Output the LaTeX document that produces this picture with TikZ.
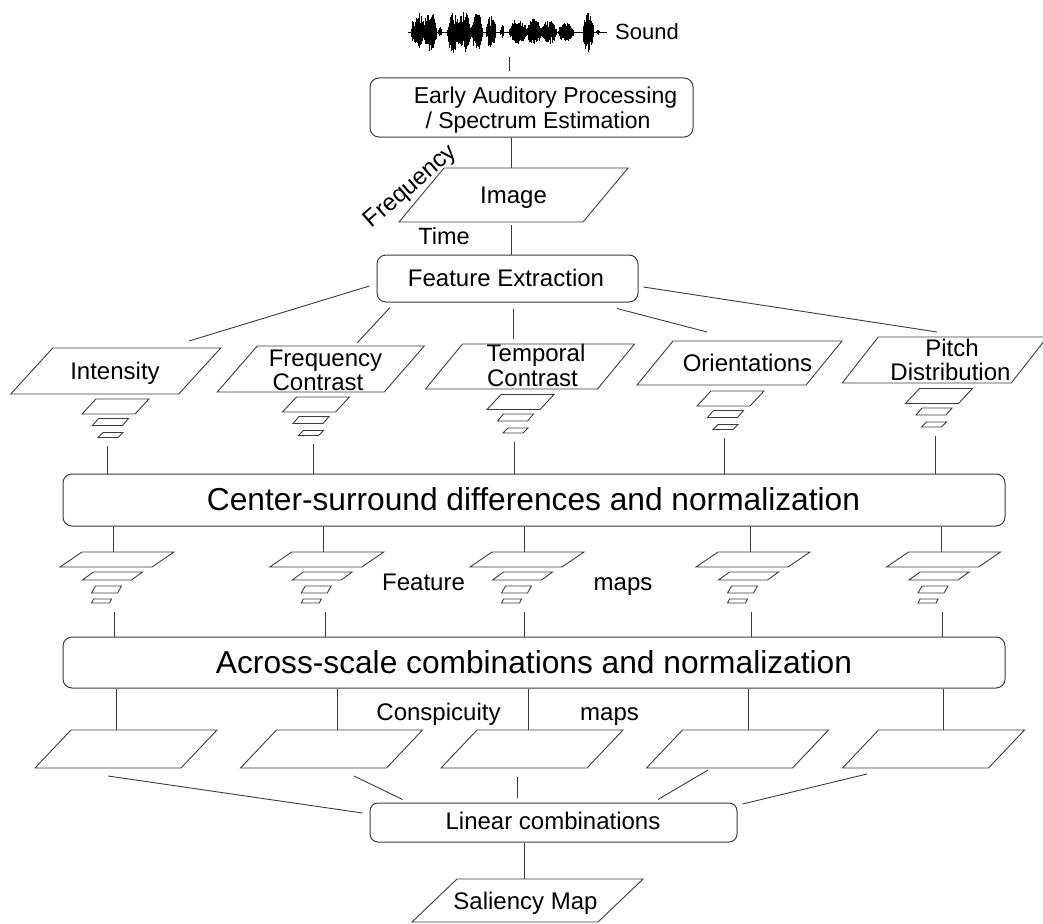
\documentclass[tikz,border=0pt]{standalone}
\usepackage{fontspec}
\setmainfont{Liberation Sans}
\usetikzlibrary{calc}
\definecolor{ln}{RGB}{60,60,60}
\newcommand\fsz[1]{\fontsize{#1}{#1}\selectfont}
% parallelogram: name, x, y, edge width, height, slant
\newcommand\pgram[6]{%
  \node[inner sep=0pt, outer sep=0pt, minimum width=#4, minimum height=#5] (#1) at (#2,#3) {};
  \draw[shapeline] ([xshift=-#6/2]#1.south west) -- ([xshift=-#6/2]#1.south east)
    -- ([xshift=#6/2]#1.north east) -- ([xshift=#6/2]#1.north west) -- cycle;
}
% three-level pyramid under a feature
\newcommand\fpyr[3]{%
  \pgram{#1a}{#2}{#3}{53}{15}{14}
  \pgram{#1b}{#2-5}{#3+15.5}{30}{7}{6}
  \pgram{#1c}{#2-5}{#3+28.5}{20}{5}{5}
}
% four-level pyramid of feature maps
\newcommand\mpyr[3]{%
  \pgram{#1a}{#2}{#3}{92}{15}{22}
  \pgram{#1b}{#2-4.5}{#3+16.5}{49}{8}{11}
  \pgram{#1c}{#2-10.5}{#3+30}{26}{7}{4}
  \pgram{#1d}{#2-15.5}{#3+41.5}{18}{4}{2}
}
\begin{document}
\begin{tikzpicture}[x=1pt,y=-1pt,
  box/.style={draw=ln, line width=1pt, rounded corners=9pt, inner sep=0pt},
  link/.style={draw=ln, line width=0.9pt},
  shapeline/.style={draw=ln, line width=0.9pt},
  lbl/.style={inner sep=0pt, anchor=base, font={\fsz{24}}},
  big/.style={lbl, font={\fsz{31.7}}},
  wave/.style={draw=black, line width=0.75pt}]
\useasboundingbox (0,0) rectangle (1043,923);

% ---- sound waveform: bursts of random strokes under an envelope
\draw[wave, line width=0.7pt] (408,32) -- (607,32);
\pgfmathsetseed{1234}
\foreach \c/\w/\u/\d in {418/7/19/16, 430/7/20/19, 440/2/6/5, 453/6/20/22,
    464/7/21/21, 477/6/20/19, 491/5/17/17, 502/2/7/6, 518/9/13/12,
    534/8/14/13, 549/8/12/13, 566/8/10/11, 588/5.5/20/21, 598/2/3/3}{
  \pgfmathtruncatemacro\wn{max(2,round(2*\w/0.5))}
  \foreach \k in {0,...,\wn}{
    \pgfmathsetmacro\wt{-1+2*\k/\wn}
    \pgfmathsetmacro\we{(max(0,1-\wt*\wt))^0.6}
    \pgfmathsetmacro\wa{0.35+0.65*rnd}
    \pgfmathsetmacro\wb{0.35+0.65*rnd}
    \draw[wave] (\c+\wt*\w, 32-\u*\we*\wa) -- (\c+\wt*\w, 32+\d*\we*\wb);
  }
}
\coordinate (wv) at (509,57);
\node[lbl, font={\fsz{22}}, anchor=base west] (snd) at (615,39.5) {Sound};

% ---- processing boxes
\node[box, minimum width=323, minimum height=59] (eap) at (531.5,107.5) {};
\node[lbl, font={\fsz{23}}] (eap1) at (545.5,103.3) {Early Auditory Processing};
\node[lbl, font={\fsz{23}}] (eap2) at (538,128.3) {/ Spectrum Estimation};

\node[box, minimum width=261, minimum height=47] (fe) at (507.5,278.5) {};
\node[lbl] (fet) at (506,286.7) {Feature Extraction};

\node[box, minimum width=942, minimum height=52] (cs) at (534,500) {};
\node[big] (cst) at (533.5,510.5) {Center-surround differences and normalization};

\node[box, minimum width=942, minimum height=51] (as) at (534,662.5) {};
\node[big] (ast) at (534,673.5) {Across-scale combinations and normalization};

\node[box, rounded corners=8pt, minimum width=367, minimum height=39] (lin) at (553.5,822.5) {};
\node[lbl] (lint) at (553,829) {Linear combinations};

% ---- spectrogram image
\pgram{img}{513.5}{195}{184}{54}{45}
\node[lbl] (imgt) at (513.5,203.3) {Image};
\node[lbl, font={\fsz{23.5}}] (time) at (444,244) {Time};
\node[inner sep=0pt, font={\fsz{24}}, rotate=41] (freq) at (411,187) {Frequency};

% ---- feature channels
\pgram{int}{115.75}{371}{168}{46}{42}
\pgram{fc}{320.75}{369}{167}{46}{40}
\pgram{tc}{530}{366.5}{172}{45}{37}
\pgram{or}{739.5}{363}{169}{44}{36}
\pgram{pd}{944.75}{360}{169}{46}{36}
\node[lbl] (intt) at (115,379.3) {Intensity};
\node[lbl] (fct1) at (325.5,366) {Frequency};
\node[lbl] (fct2) at (318,390) {Contrast};
\node[lbl] (tct1) at (536,361.7) {Temporal};
\node[lbl] (tct2) at (532.5,386.7) {Contrast};
\node[lbl] (ort) at (747.5,371.7) {Orientations};
\node[lbl] (pdt1) at (952,356.7) {Pitch};
\node[lbl] (pdt2) at (950.5,380.7) {Distribution};

\fpyr{int}{115.5}{406.5}
\fpyr{fc}{316}{404.5}
\fpyr{tc}{520.5}{402}
\fpyr{or}{730.5}{398.5}
\fpyr{pd}{939}{396}

% ---- feature maps
\mpyr{fma}{117}{559.5}
\mpyr{fmb}{326.75}{559.5}
\mpyr{fmc}{527}{559.5}
\mpyr{fmd}{753}{559.5}
\mpyr{fme}{943.5}{559.5}
\node[lbl] (fmt1) at (423.5,590) {Feature};
\node[lbl] (fmt2) at (623,590) {maps};

% ---- conspicuity maps
\pgram{cma}{126}{749}{146}{38}{36}
\pgram{cmb}{331.5}{749}{146}{38}{36}
\pgram{cmc}{532}{749}{146}{38}{36}
\pgram{cmd}{737.5}{749}{146}{38}{36}
\pgram{cme}{933.5}{749}{146}{38}{36}
\node[lbl] (cmt1) at (438.5,720.7) {Conspicuity};
\node[lbl] (cmt2) at (609.5,720) {maps};

% ---- saliency map
\pgram{sal}{527.5}{900.5}{186}{43}{45}
\node[lbl] (salt) at (525.5,909) {Saliency Map};

% ---- connectors
\draw[link, shorten >=6pt] (wv) -- (wv |- eap.north);
\draw[link] ([xshift=-2.5pt]img.north |- eap.south) -- ([xshift=-2.5pt]img.north);
\draw[link] ([xshift=-2.5pt,yshift=-3pt]img.south) -- ([xshift=-2.5pt]img.south |- fe.north);

\draw[link] ($(fe.west)+(-7,7.5)$) -- ($(int.north)+(73.25,-7)$);
\draw[link] ($(fe.south)+(-117.5,5)$) -- ($(fc.north)+(36.25,-3)$);
\draw[link] ($(fe.south)+(5.5,6)$) -- ($(tc.north)+(-17,-5)$);
\draw[link] ($(fe.south)+(109.5,6)$) -- ($(or.north)+(-32.5,-9)$);
\draw[link] ($(fe.east)+(5,8.5)$) -- ($(pd.north)+(-7.75,-5)$);

\foreach \p/\dx in {int/-3.5, fc/2, tc/-1.5, or/-1.5, pd/1}
  \draw[link] ([xshift=\dx pt, yshift=-8.5pt]\p c.south) -- ([xshift=\dx pt]\p c.south |- cs.north);

\foreach \p/\dx in {fma/-4, fmb/-3.75, fmc/-3, fmd/-3, fme/-2.5}
  \draw[link] ([xshift=\dx pt]\p a.north |- cs.south) -- ([xshift=\dx pt]\p a.north);

\foreach \p/\dx in {fma/-3, fmb/-1.75, fmc/-3, fmd/-2, fme/-1.5}
  \draw[link] ([xshift=\dx pt, yshift=-9pt]\p d.south -| \p a.center) -- ([xshift=\dx pt]\p a.center |- as.north);

\foreach \p/\dx in {cma/-10, cmb/5.5, cmc/-4, cmd/10.5, cme/9.5}
  \draw[link] ([xshift=\dx pt]\p.north |- as.south) -- ([xshift=\dx pt]\p.north);

\draw[link] ($(cma.south)+(-18,8)$) -- ($(lin.west)+(-7,-9.5)$);
\draw[link] ($(cmb.south)+(22.5,8)$) -- ($(lin.north west)+(33,-3)$);
\draw[link] ($(cmc.south)+(-15,9)$) -- ($(lin.north)+(-36.5,-5)$);
\draw[link] ($(cmd.south)+(-29.5,2)$) -- ($(lin.north)+(104.5,-3)$);
\draw[link] ($(cme.south)+(-66.5,6)$) -- ($(lin.east)+(5,-18.5)$);

\draw[link] ([xshift=-3.5pt]sal.north |- lin.south) -- ([xshift=-3.5pt]sal.north);
\end{tikzpicture}
\end{document}
